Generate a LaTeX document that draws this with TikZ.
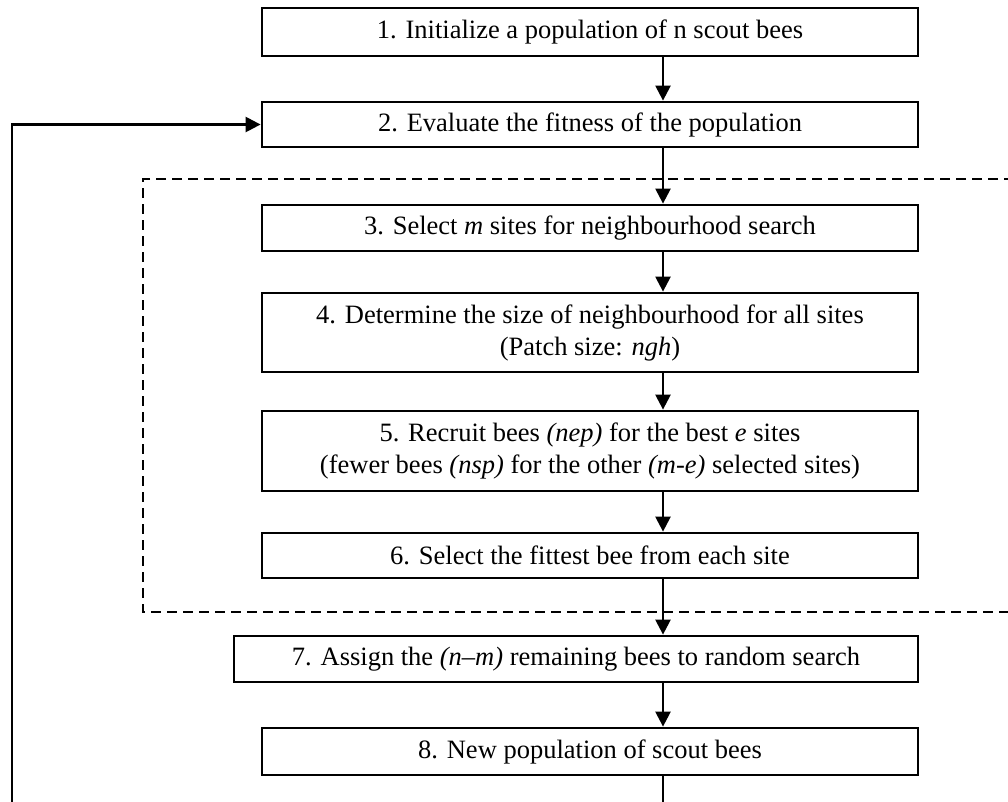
\documentclass[tikz,border=0pt]{standalone}
\usepackage{fontspec}
\setmainfont{Liberation Serif}
\usetikzlibrary{arrows.meta}
\begin{document}
\begin{tikzpicture}[x=1pt,y=-1pt,
  stepbox/.style={draw, line width=2.8pt, inner sep=0pt, align=center,
    font=\fontsize{26.5}{32}\selectfont},
  flow/.style={line width=2.4pt, -{Triangle[length=15pt,width=15pt]}},
  dashbox/.style={line width=2.8pt, dash pattern=on 10pt off 6pt}]
\useasboundingbox (0,0) rectangle (1008,801);
\clip (0,0) rectangle (1008,801);
\fill[white] (0,0) rectangle (1008,801);
\node[stepbox, minimum width=656pt, minimum height=48pt] (b1) at (590,32) {1. Initialize a population of n scout bees};
\node[stepbox, minimum width=656pt, minimum height=45pt] (b2) at (590,124.5) {2. Evaluate the fitness of the population};
\node[stepbox, minimum width=656pt, minimum height=46pt] (b3) at (590,228) {3. Select \textit{m} sites for neighbourhood search};
\node[stepbox, minimum width=656pt, minimum height=79pt] (b4) at (590,332.5) {4. Determine the size of neighbourhood for all sites\\(Patch size: \textit{ngh})};
\node[stepbox, minimum width=656pt, minimum height=80pt] (b5) at (590,451) {5. Recruit bees \textit{(nep)} for the best \textit{e} sites\\(fewer bees \textit{(nsp)} for the other \textit{(m-e)} selected sites)};
\node[stepbox, minimum width=656pt, minimum height=45pt] (b6) at (590,555.5) {6. Select the fittest bee from each site};
\node[stepbox, minimum width=684pt, minimum height=46pt] (b7) at (576,659) {7. Assign the \textit{(n–m)} remaining bees to random search};
\node[stepbox, minimum width=656pt, minimum height=47pt] (b8) at (590,751.5) {8. New population of scout bees};
\coordinate (dtl) at (143,179);
\coordinate (dbr) at (1030,612);
\draw[dashbox] (dbr |- dtl) -- (dtl) -- (dtl |- dbr) -- (dbr);
\coordinate (ax) at (663,0);
\draw[flow] (b1.south -| ax) -- (b2.north -| ax);
\draw[flow] (b2.south -| ax) -- (b3.north -| ax);
\draw[flow] (b3.south -| ax) -- (b4.north -| ax);
\draw[flow] (b4.south -| ax) -- (b5.north -| ax);
\draw[flow] (b5.south -| ax) -- (b6.north -| ax);
\draw[flow] (b6.south -| ax) -- (b7.north -| ax);
\draw[flow] (b7.south -| ax) -- (b8.north -| ax);
\coordinate (lp) at (12,840);
\draw[flow] (b8.south -| ax) -- (ax |- lp) -- (lp) |- (b2.west);
\end{tikzpicture}
\end{document}
